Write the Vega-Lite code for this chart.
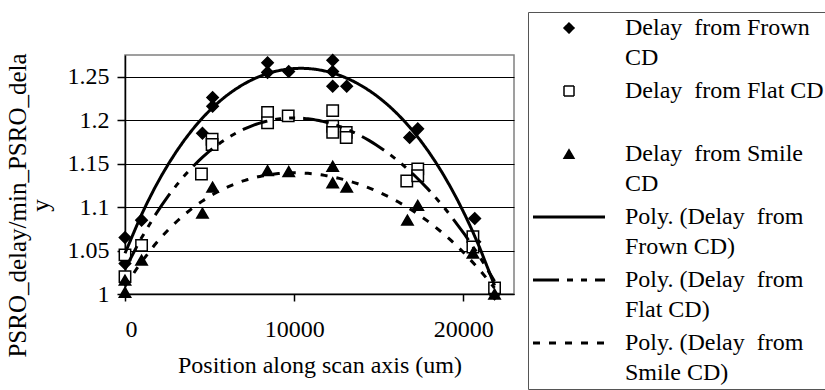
{
  "$schema": "https://vega.github.io/schema/vega-lite/v6.json",
  "width": 389,
  "height": 239,
  "autosize": {"type": "none"},
  "padding": {"left": 125, "top": 55, "right": 311, "bottom": 96},
  "background": "white",
  "data": {"values": [
    {"series": "Delay from Frown CD", "x": 0, "y": 1.065},
    {"series": "Delay from Frown CD", "x": 0, "y": 1.035},
    {"series": "Delay from Frown CD", "x": 980, "y": 1.085},
    {"series": "Delay from Frown CD", "x": 4580, "y": 1.185},
    {"series": "Delay from Frown CD", "x": 5180, "y": 1.226},
    {"series": "Delay from Frown CD", "x": 5180, "y": 1.216},
    {"series": "Delay from Frown CD", "x": 8430, "y": 1.266},
    {"series": "Delay from Frown CD", "x": 8430, "y": 1.255},
    {"series": "Delay from Frown CD", "x": 9680, "y": 1.256},
    {"series": "Delay from Frown CD", "x": 12280, "y": 1.269},
    {"series": "Delay from Frown CD", "x": 12280, "y": 1.256},
    {"series": "Delay from Frown CD", "x": 12280, "y": 1.239},
    {"series": "Delay from Frown CD", "x": 13110, "y": 1.239},
    {"series": "Delay from Frown CD", "x": 16830, "y": 1.18},
    {"series": "Delay from Frown CD", "x": 17310, "y": 1.19},
    {"series": "Delay from Frown CD", "x": 20680, "y": 1.087},
    {"series": "Delay from Frown CD", "x": 20680, "y": 1.06},
    {"series": "Delay from Frown CD", "x": 21850, "y": 1.0},
    {"series": "Delay from Flat CD", "x": 0, "y": 1.045},
    {"series": "Delay from Flat CD", "x": 0, "y": 1.02},
    {"series": "Delay from Flat CD", "x": 980, "y": 1.056},
    {"series": "Delay from Flat CD", "x": 4520, "y": 1.138},
    {"series": "Delay from Flat CD", "x": 5150, "y": 1.178},
    {"series": "Delay from Flat CD", "x": 5150, "y": 1.172},
    {"series": "Delay from Flat CD", "x": 8430, "y": 1.209},
    {"series": "Delay from Flat CD", "x": 8430, "y": 1.197},
    {"series": "Delay from Flat CD", "x": 9650, "y": 1.205},
    {"series": "Delay from Flat CD", "x": 12280, "y": 1.211},
    {"series": "Delay from Flat CD", "x": 12280, "y": 1.193},
    {"series": "Delay from Flat CD", "x": 12280, "y": 1.186},
    {"series": "Delay from Flat CD", "x": 13080, "y": 1.186},
    {"series": "Delay from Flat CD", "x": 13080, "y": 1.18},
    {"series": "Delay from Flat CD", "x": 16660, "y": 1.13},
    {"series": "Delay from Flat CD", "x": 17310, "y": 1.144},
    {"series": "Delay from Flat CD", "x": 17310, "y": 1.136},
    {"series": "Delay from Flat CD", "x": 20570, "y": 1.066},
    {"series": "Delay from Flat CD", "x": 20570, "y": 1.054},
    {"series": "Delay from Flat CD", "x": 21850, "y": 1.007},
    {"series": "Delay from Smile CD", "x": 0, "y": 1.002},
    {"series": "Delay from Smile CD", "x": 0, "y": 1.016},
    {"series": "Delay from Smile CD", "x": 980, "y": 1.039},
    {"series": "Delay from Smile CD", "x": 4580, "y": 1.093},
    {"series": "Delay from Smile CD", "x": 5180, "y": 1.123},
    {"series": "Delay from Smile CD", "x": 8430, "y": 1.142},
    {"series": "Delay from Smile CD", "x": 9680, "y": 1.141},
    {"series": "Delay from Smile CD", "x": 12280, "y": 1.147},
    {"series": "Delay from Smile CD", "x": 12280, "y": 1.128},
    {"series": "Delay from Smile CD", "x": 13110, "y": 1.123},
    {"series": "Delay from Smile CD", "x": 16700, "y": 1.085},
    {"series": "Delay from Smile CD", "x": 17310, "y": 1.102},
    {"series": "Delay from Smile CD", "x": 20570, "y": 1.047},
    {"series": "Delay from Smile CD", "x": 21850, "y": 1.0}
  ]},
  "encoding": {
    "x": {
      "field": "x", "type": "quantitative",
      "scale": {"domain": [0, 23000], "nice": false, "zero": false},
      "axis": {
        "title": "Position along scan axis (um)",
        "values": [0, 10000, 20000], "format": "d",
        "grid": false, "tickSize": 7, "labelPadding": 16, "titlePadding": 12
      }
    },
    "y": {
      "field": "y", "type": "quantitative",
      "scale": {"domain": [1, 1.275], "nice": false, "zero": false},
      "axis": {
        "title": ["PSRO_delay/min_PSRO_dela", "y"],
        "values": [1, 1.05, 1.1, 1.15, 1.2, 1.25], "format": "~g",
        "grid": true, "tickSize": 8, "labelPadding": 8, "titlePadding": 14,
        "titleLineHeight": 23, "titleFontSize": 25, "titleY": 150
      }
    }
  },
  "layer": [
    {
      "mark": {"type": "point", "filled": true, "stroke": "black", "strokeWidth": 1.5, "size": 130, "opacity": 1},
      "encoding": {
        "shape": {
          "field": "series", "type": "nominal",
          "scale": {
            "domain": ["Delay from Frown CD", "Delay from Flat CD", "Delay from Smile CD", "Poly. (Delay from Frown CD)", "Poly. (Delay from Flat CD)", "Poly. (Delay from Smile CD)"],
            "range": ["diamond", "square", "triangle-up", "stroke", "stroke", "stroke"]
          },
          "legend": {
            "title": null,
            "orient": "none",
            "legendX": 403,
            "legendY": -43,
            "padding": 4,
            "strokeColor": "#555555",
            "fillColor": "white",
            "labelFont": "Liberation Serif",
            "labelFontSize": 24,
            "labelColor": "black",
            "labelLimit": 0,
            "labelBaseline": "top",
            "labelOffset": 44,
            "symbolOffset": 25,
            "rowPadding": 9,
            "labelExpr": "datum.value == 'Delay from Frown CD' ? ['Delay\u00a0 from Frown', 'CD'] : datum.value == 'Delay from Flat CD' ? ['Delay\u00a0 from Flat CD', ' '] : datum.value == 'Delay from Smile CD' ? ['Delay\u00a0 from Smile', 'CD'] : datum.value == 'Poly. (Delay from Frown CD)' ? ['Poly. (Delay\u00a0 from', 'Frown CD)'] : datum.value == 'Poly. (Delay from Flat CD)' ? ['Poly. (Delay\u00a0 from', 'Flat CD)'] : ['Poly. (Delay\u00a0 from', 'Smile CD)']",
            "encoding": {
              "labels": {
                "dy": {"value": -12},
                "lineHeight": {"value": 30}
              },
              "symbols": {
                "fill": {"value": {"expr": "datum.value == 'Delay from Flat CD' ? 'white' : (test(/^Poly/, datum.value) ? 'transparent' : 'black')"}},
                "stroke": {"value": "black"},
                "opacity": {"value": 1},
                "strokeWidth": {"value": {"expr": "test(/^Poly/, datum.value) ? 3 : 1.5"}},
                "strokeDash": {"value": {"expr": "datum.value == 'Poly. (Delay from Flat CD)' ? [26, 8, 6, 8, 6, 8] : (datum.value == 'Poly. (Delay from Smile CD)' ? [7, 9] : [1, 0])"}},
                "size": {"value": {"expr": "test(/^Poly/, datum.value) ? 5184 : 100"}}
              }
            }
          }
        },
        "fill": {
          "field": "series", "type": "nominal",
          "scale": {"domain": ["Delay from Frown CD", "Delay from Flat CD", "Delay from Smile CD"], "range": ["black", "white", "black"]},
          "legend": null
        }
      }
    },
    {
      "transform": [
        {"regression": "y", "on": "x", "method": "poly", "order": 4, "groupby": ["series"]}
      ],
      "mark": {"type": "line", "color": "black", "strokeWidth": 3},
      "encoding": {
        "strokeDash": {
          "field": "series", "type": "nominal",
          "scale": {"domain": ["Delay from Frown CD", "Delay from Flat CD", "Delay from Smile CD"], "range": [[1, 0], [26, 8, 6, 8, 6, 8], [7, 9]]},
          "legend": null
        }
      }
    }
  ],
  "config": {
    "font": "Liberation Serif",
    "view": {"stroke": "#808080", "strokeWidth": 1.5},
    "axis": {
      "labelFont": "Liberation Serif", "labelFontSize": 24, "labelColor": "black",
      "titleFont": "Liberation Serif", "titleFontSize": 24, "titleFontWeight": "normal", "titleColor": "black",
      "domainColor": "black", "domainWidth": 1.5, "tickColor": "black", "tickWidth": 1.5,
      "gridColor": "black", "gridWidth": 1, "gridOpacity": 1
    },
    "legend": {"labelFont": "Liberation Serif"}
  }
}
